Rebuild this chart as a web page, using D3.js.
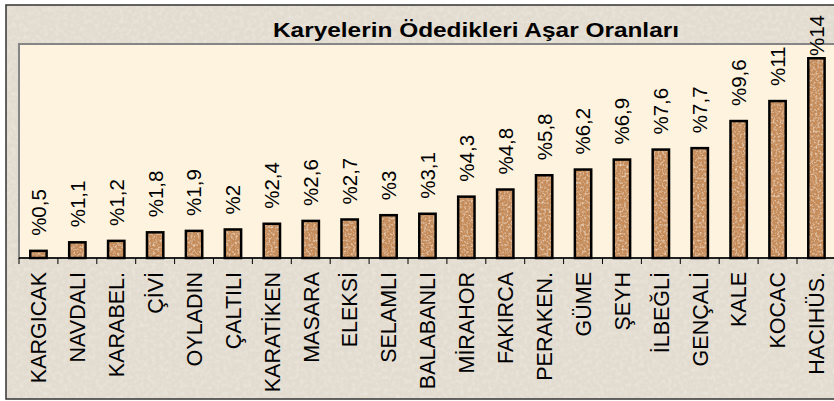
<!DOCTYPE html>
<html>
<head>
<meta charset="utf-8">
<script src="https://cdn.jsdelivr.net/npm/d3@7"></script>
<style>
  body { margin: 0; background: #fff; }
  text { font-family: "Liberation Sans", Arial, sans-serif; }
</style>
</head>
<body>
<svg id="chart" width="834" height="401"></svg>
<script>
var villages = ["KARGICAK", "NAVDALI", "KARABEL.", "ÇİVİ", "OYLADIN", "ÇALTILI", "KARATİKEN",
  "MASARA", "ELEKSİ", "SELAMLI", "BALABANLI", "MİRAHOR", "FAKIRCA", "PERAKEN.", "GÜME",
  "ŞEYH", "İLBEĞLİ", "GENÇALİ", "KALE", "KOCAC", "HACIHÜS."];
var shares = [0.5, 1.1, 1.2, 1.8, 1.9, 2, 2.4, 2.6, 2.7, 3, 3.1, 4.3, 4.8, 5.8, 6.2, 6.9, 7.6, 7.7, 9.6, 11, 14];
var yDomain = [0, 15];
var title = "Karyelerin Ödedikleri Aşar Oranları";

var svg = d3.select("#chart"),
    margin = {top: 44, left: 19, bottom: 258},
    step = 38.9,
    right = margin.left + step * villages.length,
    valueSize = 20.5;

var defs = svg.append("defs");

// paper-like grain for the backgrounds
var paper = defs.append("filter").attr("id", "paper")
  .attr("x", 0).attr("y", 0).attr("width", 1).attr("height", 1);
paper.append("feTurbulence").attr("type", "fractalNoise").attr("baseFrequency", 0.25)
  .attr("numOctaves", 3).attr("seed", 7).attr("result", "n");
paper.append("feColorMatrix").attr("in", "n").attr("type", "matrix")
  .attr("values", "0 0 0 0 1  0 0 0 0 1  0 0 0 0 1  0 0 0 0.5 -0.2").attr("result", "spots");
paper.append("feComposite").attr("in", "spots").attr("in2", "SourceGraphic").attr("operator", "in").attr("result", "s2");
var pm = paper.append("feMerge");
pm.append("feMergeNode").attr("in", "SourceGraphic");
pm.append("feMergeNode").attr("in", "s2");

// cork-like grain for the bars
var grain = defs.append("filter").attr("id", "grain")
  .attr("x", 0).attr("y", 0).attr("width", 1).attr("height", 1);
grain.append("feTurbulence").attr("type", "fractalNoise").attr("baseFrequency", 0.45)
  .attr("numOctaves", 2).attr("seed", 3).attr("result", "n");
grain.append("feColorMatrix").attr("in", "n").attr("type", "matrix")
  .attr("values", "0 0 0 0 1  0 0 0 0 0.88  0 0 0 0 0.7  0 0 0 1.6 -0.75").attr("result", "spots");
grain.append("feComposite").attr("in", "spots").attr("in2", "SourceGraphic").attr("operator", "in").attr("result", "s2");
var gm = grain.append("feMerge");
gm.append("feMergeNode").attr("in", "SourceGraphic");
gm.append("feMergeNode").attr("in", "s2");

// outer chart area
svg.append("rect")
  .attr("x", 6).attr("y", 5).attr("width", 850).attr("height", 394)
  .attr("fill", "#e2dbcf").attr("filter", "url(#paper)");
svg.append("rect")
  .attr("x", 6).attr("y", 5).attr("width", 850).attr("height", 394)
  .attr("fill", "none").attr("stroke", "#333").attr("stroke-width", 1.5);

// plot area
svg.append("rect")
  .attr("x", margin.left).attr("y", margin.top)
  .attr("width", right - margin.left).attr("height", margin.bottom - margin.top)
  .attr("fill", "#fdf3de").attr("stroke", "#858585").attr("stroke-width", 2);

var x = d3.scaleBand()
  .domain(villages)
  .range([margin.left, right])
  .paddingInner(0.58)
  .paddingOuter(0.29);

var y = d3.scaleLinear()
  .domain(yDomain)
  .range([margin.bottom, margin.top]);

var data = villages.map(function(v, i) { return {name: v, value: shares[i]}; });

function label(v) { return "%" + String(v).replace(".", ","); }
// rough Arial advance widths, enough to keep labels inside the frame
function labelWidth(s) {
  var w = 0;
  for (var c of s) w += c === "%" ? 0.889 : c === "," ? 0.278 : 0.556;
  return w * valueSize;
}

// bars
var bars = svg.append("g");
bars.selectAll(".bar")
  .data(data)
  .enter().append("rect")
  .attr("class", "bar")
  .attr("x", function(d) { return x(d.name); })
  .attr("width", x.bandwidth())
  .attr("y", function(d) { return y(d.value); })
  .attr("height", function(d) { return y(0) - y(d.value); })
  .attr("fill", "#c58b58")
  .attr("filter", "url(#grain)");
bars.selectAll(".bar-edge")
  .data(data)
  .enter().append("rect")
  .attr("class", "bar-edge")
  .attr("x", function(d) { return x(d.name); })
  .attr("width", x.bandwidth())
  .attr("y", function(d) { return y(d.value); })
  .attr("height", function(d) { return y(0) - y(d.value); })
  .attr("fill", "none")
  .attr("stroke", "#000")
  .attr("stroke-width", 2.5);

// category axis: ticks sit between the bands
var axis = svg.append("g").attr("transform", "translate(0," + y(0) + ")");
axis.append("line")
  .attr("x1", margin.left).attr("x2", right)
  .attr("stroke", "#000").attr("stroke-width", 1.5);
axis.selectAll(".tick")
  .data(villages)
  .enter().append("line")
  .attr("class", "tick")
  .attr("x1", function(d) { return x(d) - x.step() * x.paddingInner() / 2; })
  .attr("x2", function(d) { return x(d) - x.step() * x.paddingInner() / 2; })
  .attr("y1", 0).attr("y2", 6)
  .attr("stroke", "#000");
axis.selectAll(".cat")
  .data(villages)
  .enter().append("text")
  .attr("class", "cat")
  .attr("transform", function(d) {
    return "translate(" + (x(d) + x.bandwidth() / 2) + ",14) rotate(-90)";
  })
  .attr("dy", "0.36em")
  .attr("text-anchor", "end")
  .attr("font-size", 21.5)
  .attr("fill", "#000")
  .text(function(d) { return d; });

// value labels, kept inside the chart frame when the bar is tall
svg.append("g").selectAll(".val")
  .data(data)
  .enter().append("text")
  .attr("class", "val")
  .attr("transform", function(d) {
    var start = Math.max(y(d.value) - 15, 15 + labelWidth(label(d.value)));
    return "translate(" + (x(d.name) + x.bandwidth() / 2) + "," + start + ") rotate(-90)";
  })
  .attr("dy", "0.36em")
  .attr("text-anchor", "start")
  .attr("font-size", valueSize)
  .attr("fill", "#000")
  .text(function(d) { return label(d.value); });

// title
svg.append("text")
  .attr("x", 476).attr("y", 37)
  .attr("text-anchor", "middle")
  .attr("font-size", 21)
  .attr("font-weight", "bold")
  .attr("textLength", 406)
  .attr("lengthAdjust", "spacingAndGlyphs")
  .text(title);
</script>
</body>
</html>
